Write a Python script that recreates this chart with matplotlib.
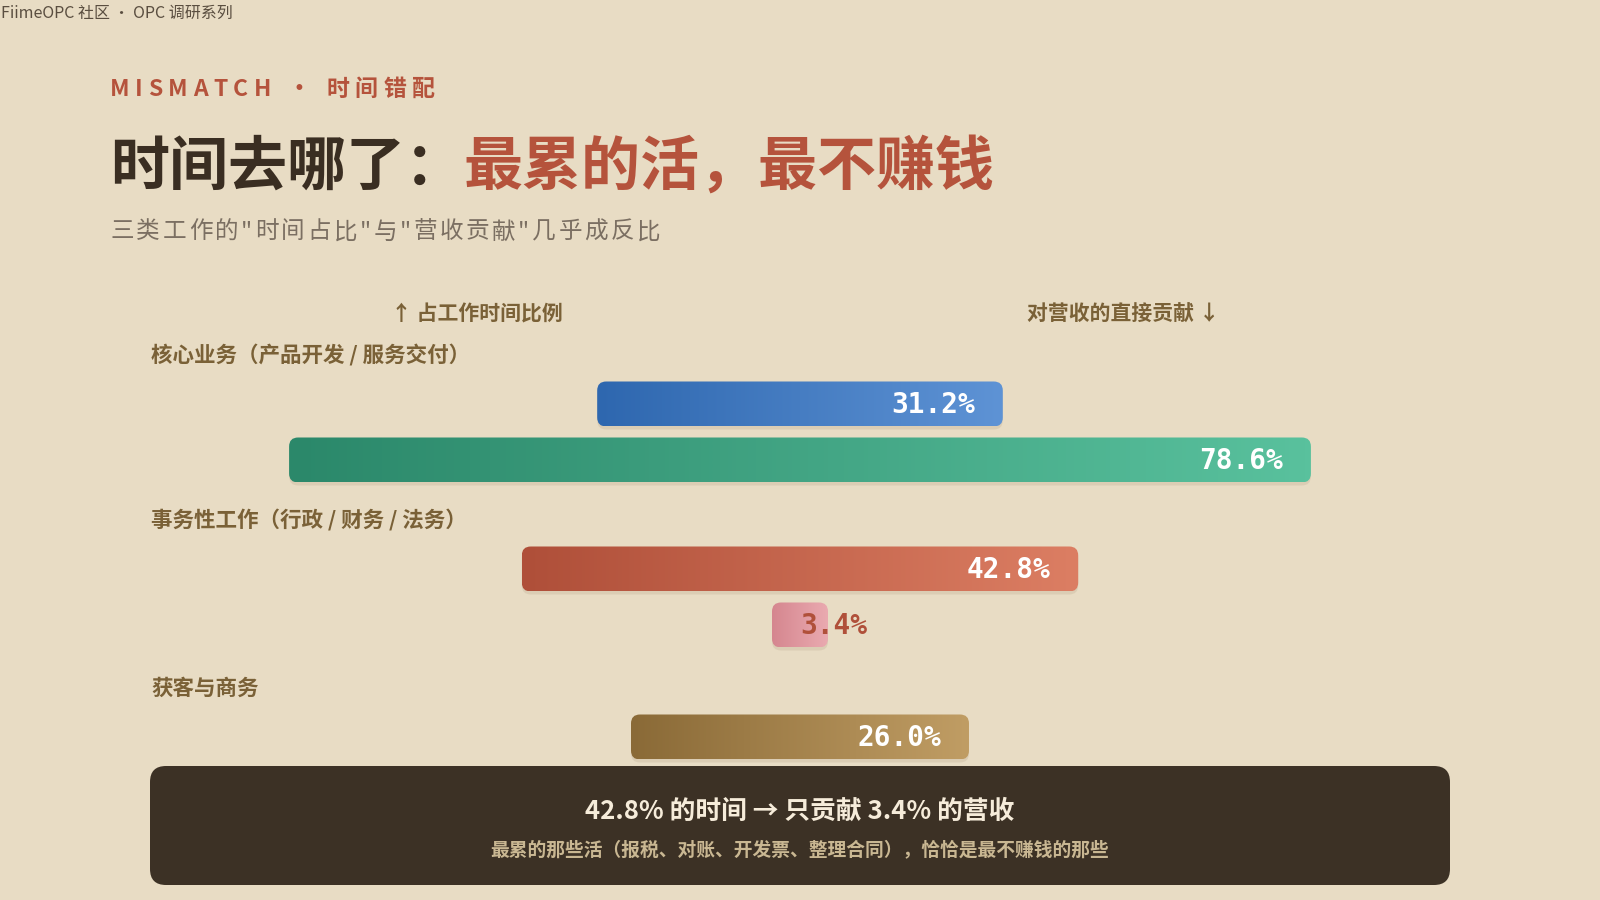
import numpy as np
import matplotlib
matplotlib.use('Agg')
import matplotlib.pyplot as plt
from matplotlib.patches import FancyBboxPatch
from matplotlib.colors import LinearSegmentedColormap

plt.rcParams['font.family'] = ['Noto Sans CJK SC', 'DejaVu Sans']

# ---- data ----
categories = ['核心业务（产品开发 / 服务交付）', '事务性工作（行政 / 财务 / 法务）', '获客与商务']
time_share = [31.2, 42.8, 26.0]       # 占工作时间比例 (%)
revenue_share = [78.6, 3.4, None]     # 对营收的直接贡献 (%), 第三项在图中被遮住

time_colors = [('#2E67AF', '#5E93D5'), ('#AF4F39', '#DC7E63'), ('#8A6A37', '#C09D64')]
rev_colors = [('#2B886A', '#59C19D'), ('#D5868F', '#EAAAB0'), ('#C9A66E', '#DCC08E')]
label_colors_time = ['white', 'white', 'white']
label_colors_rev = ['white', '#B0503A', 'white']

BG = '#E8DCC4'
DARK = '#3A2E22'
RED = '#B5533C'
BROWN = '#7A6137'

fig = plt.figure(figsize=(16, 9), dpi=100, facecolor=BG)
renderer = fig.canvas.get_renderer()

# bar axes: 1300 px wide = 100 %, y in figure pixels (top-down)
bx = fig.add_axes([150 / 1600, 0, 1300 / 1600, 1.0])
bx.set_xlim(-50, 50)
bx.set_ylim(900, 0)
bx.set_autoscale_on(False)
bx.axis('off')
bx.set_zorder(1)

# overlay axes in pixel coords for text / box
ax = fig.add_axes([0, 0, 1, 1])
ax.set_xlim(0, 1600)
ax.set_ylim(900, 0)
ax.axis('off')
ax.set_zorder(2)
ax.patch.set_alpha(0)


def spaced(x, y, s, spacing, **kw):
    """draw string char by char with extra letter spacing, returns end x"""
    for ch in s:
        t = ax.text(x, y, ch, ha='left', **kw)
        w = t.get_window_extent(renderer).width
        x += w + spacing
    return x


def text_width(t):
    return t.get_window_extent(renderer).width


# ---- header ----
ax.text(1, 13, 'FiimeOPC 社区 · OPC 调研系列', fontsize=11.5, color='#5A4E40',
        ha='left', va='center')

spaced(110, 89, 'MISMATCH · 时间错配', 5.5, fontsize=16.5, fontweight='bold',
       color=RED, va='center')

t1 = ax.text(110, 168, '时间去哪了：', fontsize=42.5, fontweight='heavy', color=DARK,
             ha='left', va='center')
ax.text(110 + text_width(t1), 168, '最累的活，最不赚钱', fontsize=42.5, fontweight='heavy',
        color=RED, ha='left', va='center')

spaced(110, 232, '三类工作的"时间占比"与"营收贡献"几乎成反比', 2.6, fontsize=17,
       color='#7B6F62', va='center')

ax.text(477, 314, '↑ 占工作时间比例', fontsize=15, fontweight='bold', color=BROWN,
        ha='center', va='center')
ax.text(1123, 314, '对营收的直接贡献 ↓', fontsize=15, fontweight='bold', color=BROWN,
        ha='center', va='center')

# ---- bars ----
PX = 13.0          # pixels per percent
BAR_H = 45
MIN_W = 56 / PX
label_y = [355, 520, 688]


def draw_bar(yc, value, c0, c1, txt_color):
    w = max(value, MIN_W)
    left, right = -w / 2, w / 2
    # soft shadow
    sh = FancyBboxPatch((left, yc - BAR_H / 2 + 3), w, BAR_H,
                        boxstyle='round,pad=0,rounding_size=%f' % (9 / PX),
                        mutation_aspect=PX, transform=bx.transData,
                        facecolor='#6B5030', edgecolor='none', alpha=0.10, zorder=2)
    bx.add_patch(sh)
    patch = FancyBboxPatch((left, yc - BAR_H / 2), w, BAR_H,
                           boxstyle='round,pad=0,rounding_size=%f' % (9 / PX),
                           mutation_aspect=PX, transform=bx.transData,
                           facecolor='none', edgecolor='none', zorder=3)
    bx.add_patch(patch)
    cmap = LinearSegmentedColormap.from_list('g', [c0, c1])
    grad = np.linspace(0, 1, 256).reshape(1, -1)
    im = bx.imshow(grad, extent=[left, right, yc + BAR_H / 2, yc - BAR_H / 2],
                   aspect='auto', cmap=cmap, zorder=3, interpolation='bilinear')
    im.set_clip_path(patch)
    label = '%.1f%%' % value
    if w * PX > 150:
        bx.text(right - 28 / PX, yc + 1, label, ha='right', va='center',
                fontsize=20, fontweight='bold', family='DejaVu Sans Mono',
                color=txt_color, zorder=4)
    else:
        bx.text(left + 28 / PX, yc + 1, label, ha='left', va='center',
                fontsize=20, fontweight='bold', family='DejaVu Sans Mono',
                color=txt_color, zorder=4)


for i, cat in enumerate(categories):
    ly = label_y[i]
    ax.text(151, ly, cat, fontsize=15.5, fontweight='bold', color=BROWN,
            ha='left', va='center')
    draw_bar(ly + 49, time_share[i], *time_colors[i], label_colors_time[i])
    if revenue_share[i] is not None:
        draw_bar(ly + 105, revenue_share[i], *rev_colors[i], label_colors_rev[i])

# ---- takeaway box ----
box = FancyBboxPatch((150, 766), 1300, 119,
                     boxstyle='round,pad=0,rounding_size=16',
                     facecolor='#3C3125', edgecolor='none', zorder=5)
ax.add_patch(box)
ax.text(800, 811, '42.8% 的时间 → 只贡献 3.4% 的营收', fontsize=18.5, fontweight='bold',
        color='#F6ECDA', ha='center', va='center', zorder=6)
ax.text(800, 850, '最累的那些活（报税、对账、开发票、整理合同），恰恰是最不赚钱的那些',
        fontsize=13.5, fontweight='bold', color='#C9B792', ha='center', va='center',
        zorder=6)

fig.savefig('out.png', dpi=100, facecolor=BG)
